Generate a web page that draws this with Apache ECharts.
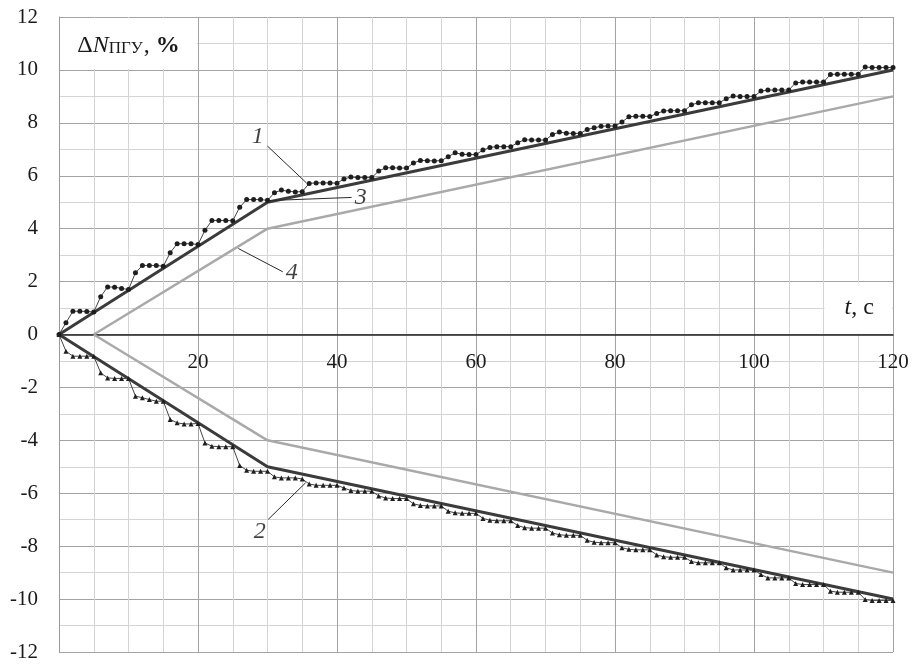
<!DOCTYPE html>
<html>
<head>
<meta charset="utf-8">
<script src="https://cdn.jsdelivr.net/npm/echarts@6/dist/echarts.min.js"></script>
<style>
  html, body { margin: 0; padding: 0; background: #fff; }
  #chart { width: 913px; height: 664px; }
</style>
</head>
<body>
<div id="chart"></div>
<script>
// Time axis, seconds (one sample per second for the stepped curves)
const timeSec = Array.from({ length: 121 }, (_, i) => i);

// Curve 1: stepped power response, increase (dots)
const stepUp = [
  0, 0.44, 0.88, 0.88, 0.87, 0.85, 1.43, 1.80, 1.79, 1.74,
  1.70, 2.33, 2.61, 2.61, 2.61, 2.58, 3.09, 3.43, 3.43, 3.43,
  3.40, 3.94, 4.31, 4.31, 4.31, 4.30, 4.81, 5.10, 5.10, 5.10,
  5.07, 5.36, 5.46, 5.41, 5.39, 5.40, 5.71, 5.73, 5.73, 5.73,
  5.72, 5.88, 5.95, 5.93, 5.93, 5.93, 6.18, 6.30, 6.30, 6.29,
  6.29, 6.48, 6.58, 6.57, 6.56, 6.57, 6.72, 6.87, 6.81, 6.80,
  6.80, 6.97, 7.07, 7.10, 7.10, 7.10, 7.25, 7.36, 7.35, 7.35,
  7.35, 7.56, 7.65, 7.61, 7.60, 7.60, 7.75, 7.81, 7.87, 7.88,
  7.88, 8.03, 8.23, 8.25, 8.25, 8.24, 8.35, 8.45, 8.46, 8.46,
  8.46, 8.68, 8.76, 8.76, 8.76, 8.76, 8.91, 9.01, 9.00, 9.00,
  9.00, 9.20, 9.24, 9.24, 9.24, 9.24, 9.51, 9.54, 9.54, 9.54,
  9.54, 9.83, 9.84, 9.84, 9.84, 9.84, 10.11, 10.09, 10.09, 10.09,
  10.09
];

// Curve 2: stepped power response, decrease (triangles)
const stepDown = [
  0, -0.63, -0.82, -0.82, -0.82, -0.82, -1.45, -1.64, -1.66, -1.66,
  -1.66, -2.33, -2.39, -2.46, -2.52, -2.52, -3.21, -3.34, -3.38, -3.38,
  -3.36, -4.10, -4.22, -4.24, -4.24, -4.24, -4.95, -5.13, -5.17, -5.17,
  -5.17, -5.38, -5.42, -5.42, -5.42, -5.46, -5.65, -5.70, -5.70, -5.70,
  -5.70, -5.80, -5.90, -5.92, -5.92, -5.92, -6.10, -6.18, -6.20, -6.20,
  -6.20, -6.40, -6.46, -6.48, -6.48, -6.48, -6.68, -6.74, -6.76, -6.76,
  -6.76, -6.95, -7.02, -7.04, -7.04, -7.04, -7.22, -7.30, -7.32, -7.32,
  -7.32, -7.50, -7.57, -7.59, -7.59, -7.59, -7.78, -7.85, -7.87, -7.87,
  -7.87, -8.06, -8.12, -8.14, -8.14, -8.14, -8.33, -8.40, -8.42, -8.42,
  -8.42, -8.58, -8.63, -8.63, -8.63, -8.63, -8.82, -8.90, -8.90, -8.90,
  -8.90, -9.07, -9.20, -9.20, -9.20, -9.20, -9.41, -9.45, -9.45, -9.45,
  -9.45, -9.70, -9.74, -9.74, -9.74, -9.74, -10.02, -10.05, -10.05, -10.05,
  -10.05
];

// Curve 3: required response envelope (dark), breakpoints [t, %]
const reqUp   = [[0, 0], [30, 5], [120, 10]];
const reqDown = [[0, 0], [30, -5], [120, -10]];

// Curve 4: minimum response envelope (light), breakpoints [t, %]
const minUp   = [[5, 0], [30, 4], [120, 9]];
const minDown = [[5, 0], [30, -4], [120, -9]];

// Curve number callouts: label position and leader line ends
const calloutText = ['1', '2', '3', '4'];
const calloutPos  = [[28.6, 7.48], [28.9, -7.45], [43.4, 5.18], [33.5, 2.34]];
const leaderFrom  = [[30.0, 7.12], [30.1, -6.99], [42.1, 5.18], [32.2, 2.37]];
const leaderTo    = [[35.6, 5.73], [35.5, -5.60], [29.9, 5.06], [25.8, 3.25]];

// Axis settings
const xMin = 0, xMax = 120, xStep = 20;
const yMin = -12, yMax = 12, yStep = 2;

const SERIF = '"Liberation Serif", "DejaVu Serif", serif';
const DARK = '#3b3b3b';
const LIGHT = '#a9a9a9';

// Plot area
const GRID = { left: 59, right: 20, top: 17, bottom: 12 };
const plotH = 664 - GRID.top - GRID.bottom;
// the time axis sits on the zero line: shift it up from the bottom edge
const zeroOffset = -plotH * (0 - yMin) / (yMax - yMin);

const chart = echarts.init(document.getElementById('chart'));

const leaderSeries = leaderFrom.map((p, i) => ({
  type: 'line',
  data: [p, leaderTo[i]],
  symbol: 'none',
  silent: true,
  z: 4,
  lineStyle: { color: '#2a2a2a', width: 1 }
}));

chart.setOption({
  animation: false,
  backgroundColor: '#fff',
  grid: Object.assign({ containLabel: false, outerBoundsMode: 'none' }, GRID),
  xAxis: {
    type: 'value',
    position: 'bottom',
    offset: zeroOffset,
    min: xMin, max: xMax, interval: xStep,
    axisLine: { onZero: false, lineStyle: { color: '#222', width: 1.5 } },
    axisTick: { show: false },
    axisLabel: {
      margin: 17,
      fontFamily: SERIF, fontSize: 21, color: '#1a1a1a',
      showMaxLabel: true,
      formatter: v => (v === 0 ? '' : String(v))
    },
    splitLine: { show: true, lineStyle: { color: '#a3a3a3', width: 1 } },
    minorTick: { show: false, splitNumber: 4 },
    minorSplitLine: { show: true, lineStyle: { color: '#d4d4d4', width: 1 } }
  },
  yAxis: {
    type: 'value',
    min: yMin, max: yMax, interval: yStep,
    axisLine: { show: true, onZero: false, lineStyle: { color: '#9a9a9a', width: 1 } },
    axisTick: { show: false },
    axisLabel: {
      margin: 21,
      fontFamily: SERIF, fontSize: 21, color: '#1a1a1a'
    },
    splitLine: { show: true, lineStyle: { color: '#a3a3a3', width: 1 } },
    minorTick: { show: false, splitNumber: 2 },
    minorSplitLine: { show: true, lineStyle: { color: '#d4d4d4', width: 1 } }
  },
  series: [
    { type: 'line', data: minUp, symbol: 'none', z: 2, lineStyle: { color: LIGHT, width: 2.5 } },
    { type: 'line', data: minDown, symbol: 'none', z: 2, lineStyle: { color: LIGHT, width: 2.5 } },
    { type: 'line', data: reqUp, symbol: 'none', z: 3, lineStyle: { color: DARK, width: 3 } },
    { type: 'line', data: reqDown, symbol: 'none', z: 3, lineStyle: { color: DARK, width: 3 } },
    {
      type: 'line',
      data: timeSec.map((t, i) => [t, stepUp[i]]),
      symbol: 'circle', symbolSize: 5, showAllSymbol: true, z: 5,
      itemStyle: { color: '#1e1e1e' },
      lineStyle: { color: '#444', width: 1 }
    },
    {
      type: 'line',
      data: timeSec.map((t, i) => [t, stepDown[i]]),
      symbol: 'triangle', symbolSize: 5, showAllSymbol: true, z: 5,
      itemStyle: { color: '#1e1e1e' },
      lineStyle: { color: '#444', width: 1 }
    },
    ...leaderSeries,
    {
      type: 'scatter',
      data: calloutPos.map((p, i) => ({ value: p, name: calloutText[i] })),
      symbolSize: 0,
      silent: true,
      z: 6,
      label: {
        show: true,
        position: 'inside',
        formatter: p => p.name,
        fontFamily: SERIF, fontStyle: 'italic', fontSize: 24, color: '#111'
      }
    }
  ]
});

// Axis title boxes, placed in data space then drawn as graphics
function boxAt(x0, y0, x1, y1) {
  const a = chart.convertToPixel({ xAxisIndex: 0, yAxisIndex: 0 }, [x0, y0]);
  const b = chart.convertToPixel({ xAxisIndex: 0, yAxisIndex: 0 }, [x1, y1]);
  return {
    x: Math.min(a[0], b[0]) + 1, y: Math.min(a[1], b[1]) + 1,
    width: Math.abs(b[0] - a[0]) - 2, height: Math.abs(b[1] - a[1]) - 2
  };
}
const yTitleBox = boxAt(0, 12, 20, 10);
const xTitleBox = boxAt(110, 2, 120, 0);

chart.setOption({
  graphic: [
    {
      type: 'rect', z: 10, shape: yTitleBox, style: { fill: '#fff' }, silent: true
    },
    {
      type: 'text', z: 11,
      x: yTitleBox.x + yTitleBox.width / 2, y: yTitleBox.y + yTitleBox.height / 2 + 2,
      style: {
        text: '{d|Δ}{n|N}{s|ПГУ}{d|, }{p|%}',
        align: 'center', verticalAlign: 'middle',
        fill: '#1a1a1a',
        rich: {
          d: { fontFamily: SERIF, fontSize: 24, lineHeight: 24, verticalAlign: 'bottom' },
          n: { fontFamily: SERIF, fontSize: 24, lineHeight: 24, fontStyle: 'italic', verticalAlign: 'bottom' },
          s: { fontFamily: SERIF, fontSize: 17, lineHeight: 17, verticalAlign: 'bottom', padding: [0, 1, 0, 0] },
          p: { fontFamily: SERIF, fontSize: 24, lineHeight: 24, fontWeight: 'bold', verticalAlign: 'bottom' }
        }
      }
    },
    {
      type: 'rect', z: 10, shape: xTitleBox, style: { fill: '#fff' }, silent: true
    },
    {
      type: 'text', z: 11,
      x: xTitleBox.x + xTitleBox.width / 2 + 1, y: xTitleBox.y + xTitleBox.height / 2,
      style: {
        text: '{t|t}{c|, c}',
        align: 'center', verticalAlign: 'middle',
        fill: '#1a1a1a',
        rich: {
          t: { fontFamily: SERIF, fontSize: 24, fontStyle: 'italic' },
          c: { fontFamily: SERIF, fontSize: 24 }
        }
      }
    }
  ]
});
</script>
</body>
</html>
